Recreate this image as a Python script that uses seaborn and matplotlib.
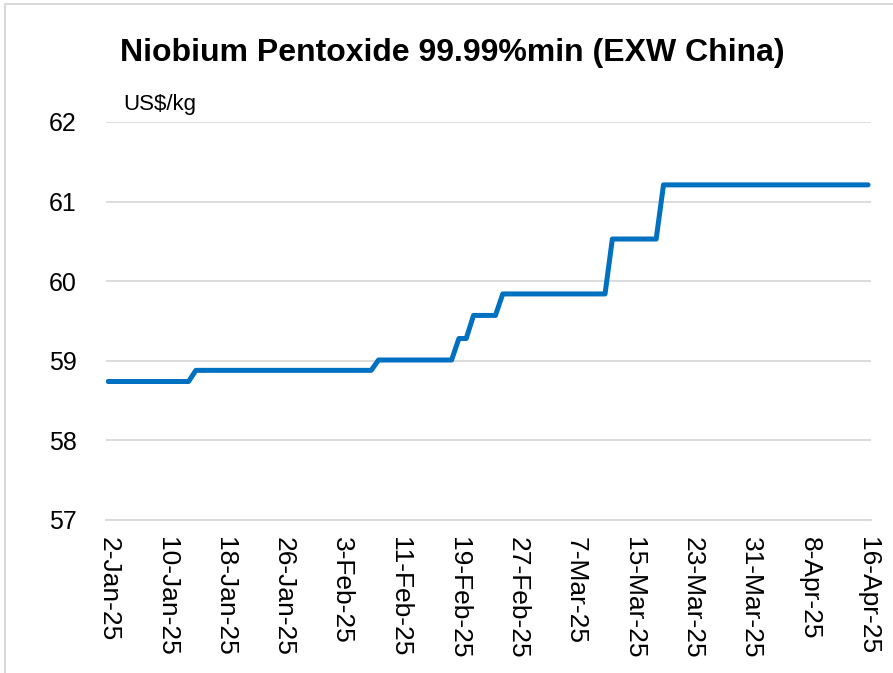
import pandas as pd
import matplotlib
matplotlib.use("Agg")
import matplotlib.pyplot as plt
import matplotlib.dates as mdates
from matplotlib.lines import Line2D
import seaborn as sns

# Price change points (daily quotes, flat between them)
dates = ["2025-01-02", "2025-01-13", "2025-01-14", "2025-02-07", "2025-02-08",
         "2025-02-18", "2025-02-19", "2025-02-20", "2025-02-21", "2025-02-24",
         "2025-02-25", "2025-03-11", "2025-03-12", "2025-03-18", "2025-03-19",
         "2025-04-16"]
prices = [58.74, 58.74, 58.88, 58.88, 59.01,
          59.01, 59.28, 59.28, 59.57, 59.57,
          59.84, 59.84, 60.53, 60.53, 61.21,
          61.21]

df = pd.DataFrame({"date": pd.to_datetime(dates), "price": prices})

sns.set_style("white")
plt.rcParams["font.family"] = ["Liberation Sans", "DejaVu Sans"]
plt.rcParams["text.color"] = "black"

W, H = 893, 673
fig = plt.figure(figsize=(W / 100, H / 100), dpi=100)
ax = fig.add_axes([106 / W, 1 - 520 / H, (871 - 106) / W, (520 - 122) / H])

sns.lineplot(data=df, x="date", y="price", ax=ax, color="#0070C0",
             linewidth=3.6, solid_capstyle="round", solid_joinstyle="round")

start = pd.Timestamp("2025-01-02")
ax.set_xlim(start - pd.Timedelta(days=0.3),
            pd.Timestamp("2025-04-16") + pd.Timedelta(days=0.4))
ax.set_ylim(57, 62)
ax.set_yticks([57, 58, 59, 60, 61, 62])
ax.yaxis.grid(True, color="#D9D9D9", linewidth=1.3)
ax.set_axisbelow(True)

ticks = pd.date_range(start, "2025-04-16", freq="8D")
ax.set_xticks(ticks)
ax.xaxis.set_major_formatter(mdates.DateFormatter("%-d-%b-%y"))

for s in ["top", "right", "left"]:
    ax.spines[s].set_visible(False)
ax.spines["bottom"].set_color("#D9D9D9")
ax.spines["bottom"].set_linewidth(1.3)

ax.tick_params(axis="x", length=6, width=1.3, color="#D9D9D9", pad=6,
               labelsize=19, labelcolor="black", labelrotation=-90)
ax.tick_params(axis="y", length=0, pad=21, labelsize=18, labelcolor="black")
for lbl in ax.get_xticklabels():
    lbl.set_va("top")
    lbl.set_ha("center")
ax.set_xlabel("")
ax.set_ylabel("")

fig.text(452 / W, 1 - 61 / H, "Niobium Pentoxide 99.99%min (EXW China)",
         ha="center", va="baseline", fontsize=23, fontweight="bold",
         color="black")
fig.text(123 / W, 1 - 110 / H, "US$/kg", ha="left", va="baseline",
         fontsize=16, color="black")

# chart frame
fig.add_artist(Line2D([5 / W, 1], [1 - 4 / H, 1 - 4 / H], color="#D9D9D9",
                      linewidth=1.5, transform=fig.transFigure))
fig.add_artist(Line2D([5 / W, 5 / W], [0, 1 - 4 / H], color="#D9D9D9",
                      linewidth=1.5, transform=fig.transFigure))

fig.savefig("out.png", dpi=100)
